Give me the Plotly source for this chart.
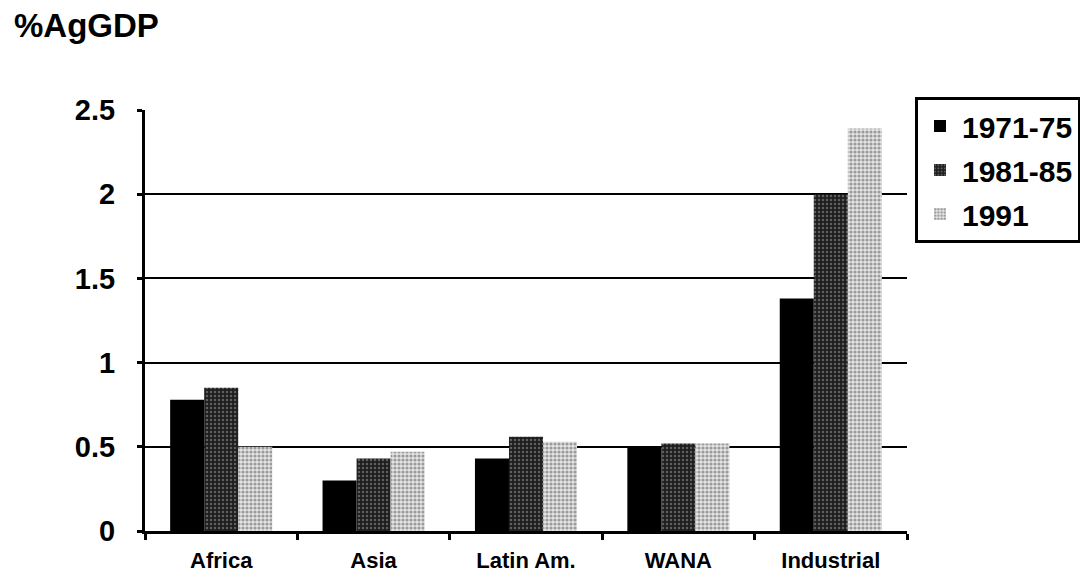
import plotly.graph_objects as go

# Agricultural research spending as % of agricultural GDP, by region
regions = ["Africa", "Asia", "Latin Am.", "WANA", "Industrial"]
periods = ["1971-75", "1981-85", "1991"]
share_1971_75 = [0.78, 0.30, 0.43, 0.50, 1.38]
share_1981_85 = [0.85, 0.43, 0.56, 0.52, 2.00]
share_1991 = [0.50, 0.47, 0.53, 0.52, 2.39]
y_ticks = [0, 0.5, 1, 1.5, 2, 2.5]
y_tick_text = ["0", "0.5", "1", "1.5", "2", "2.5"]

FONT = "Liberation Sans, Arial, sans-serif"

styles = [
    dict(color="#000000", pattern=dict(shape="")),
    dict(color="#2a2a2a", pattern=dict(shape=".", fgcolor="#a0a0a0", bgcolor="#1e1e1e",
                                       size=4, solidity=0.3, fillmode="overlay")),
    dict(color="#a8a8a8", pattern=dict(shape=".", fgcolor="#505050", bgcolor="#e4e4e4",
                                       size=4, solidity=0.5, fillmode="overlay")),
]

fig = go.Figure()
for name, vals, st in zip(periods, [share_1971_75, share_1981_85, share_1991], styles):
    fig.add_trace(go.Bar(
        x=regions, y=vals, name=name, legendgroup=name,
        marker=dict(color=st["color"], pattern=st["pattern"], line=dict(width=0)),
    ))

fig.update_layout(
    width=1080, height=579,
    paper_bgcolor="white", plot_bgcolor="white",
    margin=dict(l=145, r=173, t=110, b=48, autoexpand=False),
    barmode="group", bargap=0.33, bargroupgap=0,
    font=dict(family=FONT, color="black"),
    showlegend=True,
    legend=dict(
        x=(915 - 145) / 762, y=(531 - 97) / 421, xanchor="left", yanchor="top",
        bordercolor="black", borderwidth=3, bgcolor="white",
        font=dict(family=FONT, size=30, color="black", weight="bold"),
        tracegroupgap=2, itemwidth=34,
    ),
    annotations=[dict(
        text="<b>%AgGDP</b>", xref="paper", yref="paper",
        x=-133 / 762, y=(531 - 25) / 421, xanchor="left", yanchor="middle",
        showarrow=False, font=dict(family=FONT, size=33, color="black"),
    )],
)

fig.update_yaxes(
    range=[0, 2.5], tickvals=y_ticks, ticktext=y_tick_text,
    showgrid=True, gridcolor="black", gridwidth=2,
    showline=True, linecolor="black", linewidth=3,
    ticks="outside", ticklen=5, tickwidth=3, tickcolor="black",
    ticklabelstandoff=16,
    tickfont=dict(family=FONT, size=29, color="black", weight="bold"),
    zeroline=False, fixedrange=True,
)
fig.update_xaxes(
    showline=True, linecolor="black", linewidth=3,
    ticks="outside", tickson="boundaries", ticklen=6, tickwidth=3, tickcolor="black",
    ticklabelstandoff=8,
    tickfont=dict(family=FONT, size=22, color="black", weight="bold"),
    showgrid=False,
)

fig.write_html("out.html")
